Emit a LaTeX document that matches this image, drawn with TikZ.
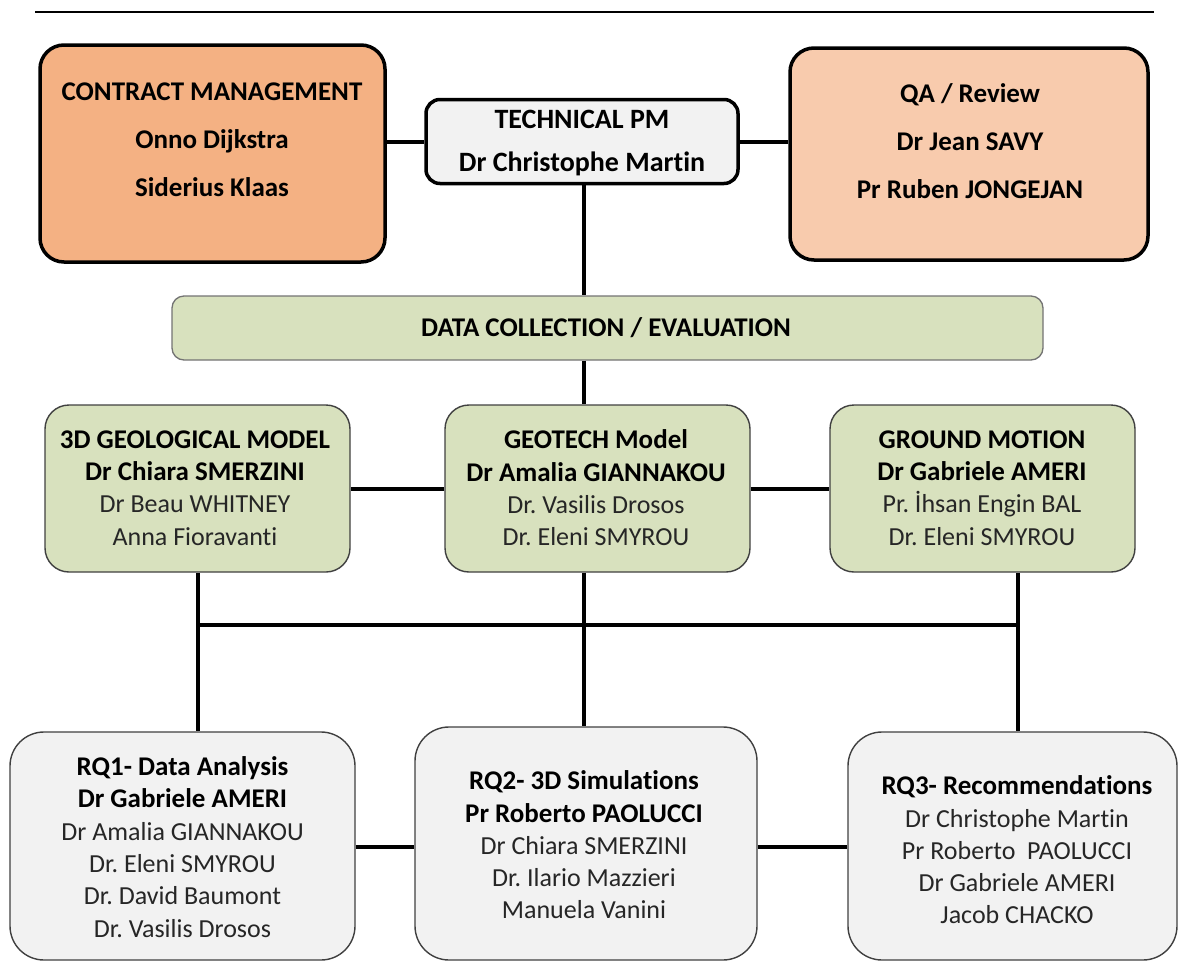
\documentclass[tikz,border=0pt]{standalone}
\usepackage{fontspec}
\setmainfont{Carlito}[Ligatures=NoCommon]
\frenchspacing
\definecolor{cmorange}{HTML}{F4B183}
\definecolor{qaorange}{HTML}{F8CBAD}
\definecolor{pmgray}{HTML}{F2F2F2}
\definecolor{geogreen}{HTML}{D8E1BE}
\definecolor{rqgray}{HTML}{F2F2F2}
\definecolor{txtgray}{HTML}{262626}
\newcommand{\hd}[1]{\textbf{\color{black}\fontsize{27}{32.3}\selectfont #1}}
\begin{document}
\begin{tikzpicture}[x=1pt,y=-1pt,
  topbox/.style={draw=black, line width=3.5pt, rounded corners=24pt, inner sep=0pt},
  pmbox/.style={draw=black, line width=3.5pt, rounded corners=14pt, inner sep=0pt, fill=pmgray},
  barbox/.style={draw=black!55, line width=1.3pt, rounded corners=12pt, inner sep=0pt, fill=geogreen},
  greenbox/.style={draw=black!75, line width=1.4pt, rounded corners=24pt, inner sep=0pt, fill=geogreen},
  rqbox/.style={draw=black!75, line width=1.4pt, rounded corners=34pt, inner sep=0pt, fill=rqgray},
  link/.style={line width=4pt, draw=black},
  toptxt/.style={align=center, text=black, inner sep=0pt,
    font=\fontsize{27}{48}\selectfont\bfseries},
  pmtxt/.style={align=center, text=black, inner sep=0pt,
    font=\fontsize{28}{43}\selectfont\bfseries},
  bartxt/.style={align=center, text=black, inner sep=0pt,
    font=\fontsize{27}{30}\selectfont\bfseries},
  boxtxt/.style={align=center, text=txtgray, inner sep=0pt,
    font=\fontsize{26}{32.3}\selectfont}
]
\useasboundingbox (0,0) rectangle (1179,962);

% header rule
\coordinate (ruleL) at (35,12);
\coordinate (ruleR) at (1154,12);
\draw[line width=2pt] (ruleL) -- (ruleR);

% management row
\node[topbox, fill=cmorange, minimum width=345pt, minimum height=217pt] (cm) at (212.5,153.5) {};
\node[toptxt] (cmt) at (212,140) {CONTRACT MANAGEMENT\\Onno Dijkstra\\Siderius Klaas};

\node[pmbox, minimum width=312pt, minimum height=84pt] (pm) at (582,141.5) {};
\node[pmtxt] (pmt) at (582,143) {TECHNICAL PM\\Dr Christophe Martin};

\node[topbox, fill=qaorange, minimum width=358pt, minimum height=212pt] (qa) at (969,154) {};
\node[toptxt] (qat) at (970,141) {QA / Review\\Dr Jean SAVY\\Pr Ruben JONGEJAN};

% vertical spine of the chart
\coordinate (spine) at (584,0);

% data collection bar
\node[barbox, minimum width=871pt, minimum height=64pt] (data) at (607.5,328) {};
\node[bartxt] (datat) at (606,328) {DATA COLLECTION / EVALUATION};

% model boxes
\node[greenbox, minimum width=305pt, minimum height=167pt] (geo) at (197.5,488.5) {};
\node[boxtxt] (geot) at (195,488) {\hd{3D GEOLOGICAL MODEL}\\\hd{Dr Chiara SMERZINI}\\Dr Beau WHITNEY\\Anna Fioravanti};

\node[greenbox, minimum width=305pt, minimum height=167pt] (gtm) at (597.5,488.5) {};
\node[boxtxt] (gtmt) at (596,488) {\hd{GEOTECH Model}\\\hd{Dr Amalia GIANNAKOU}\\Dr. Vasilis Drosos\\Dr. Eleni SMYROU};

\node[greenbox, minimum width=305pt, minimum height=167pt] (gm) at (982.5,488.5) {};
\node[boxtxt] (gmt) at (982,488) {\hd{GROUND MOTION}\\\hd{Dr Gabriele AMERI}\\Pr. İhsan Engin BAL\\Dr. Eleni SMYROU};

% research question boxes
\node[rqbox, minimum width=345pt, minimum height=228pt] (rq1) at (182.5,846) {};
\node[boxtxt] (rq1t) at (182.5,847) {\hd{RQ1- Data Analysis}\\\hd{Dr Gabriele AMERI}\\Dr Amalia GIANNAKOU\\Dr. Eleni SMYROU\\Dr. David Baumont\\Dr. Vasilis Drosos};

\node[rqbox, minimum width=342pt, minimum height=233pt] (rq2) at (586,843.5) {};
\node[boxtxt] (rq2t) at (584,845) {\hd{RQ2- 3D Simulations}\\\hd{Pr Roberto PAOLUCCI}\\Dr Chiara SMERZINI\\Dr. Ilario Mazzieri\\Manuela Vanini};

\node[rqbox, minimum width=329pt, minimum height=228pt] (rq3) at (1012.5,846) {};
\node[boxtxt] (rq3t) at (1017,850) {\hd{RQ3- Recommendations}\\Dr Christophe Martin\\Pr Roberto~ PAOLUCCI\\Dr Gabriele AMERI\\Jacob CHACKO};

% connectors
\draw[link] (pm.west) -- (pm.west -| cm.east);
\draw[link] (pm.east) -- (pm.east -| qa.west);
\draw[link] (spine |- pm.south) -- (spine |- data.north);
\draw[link] (spine |- data.south) -- (spine |- gtm.north);
\draw[link] (gtm.west) -- (gtm.west -| geo.east);
\draw[link] (gtm.east) -- (gtm.east -| gm.west);

\coordinate (busL) at (198,625);
\coordinate (busR) at (1018,625);
\draw[link] (busL) -- (busR);
\draw[link] (geo.south -| busL) -- (rq1.north -| busL);
\draw[link] (spine |- gtm.south) -- (spine |- rq2.north);
\draw[link] (gm.south -| busR) -- (rq3.north -| busR);

\draw[link] (rq1.east |- 0,847) -- (rq2.west |- 0,847);
\draw[link] (rq2.east |- 0,847) -- (rq3.west |- 0,847);
\end{tikzpicture}
\end{document}
